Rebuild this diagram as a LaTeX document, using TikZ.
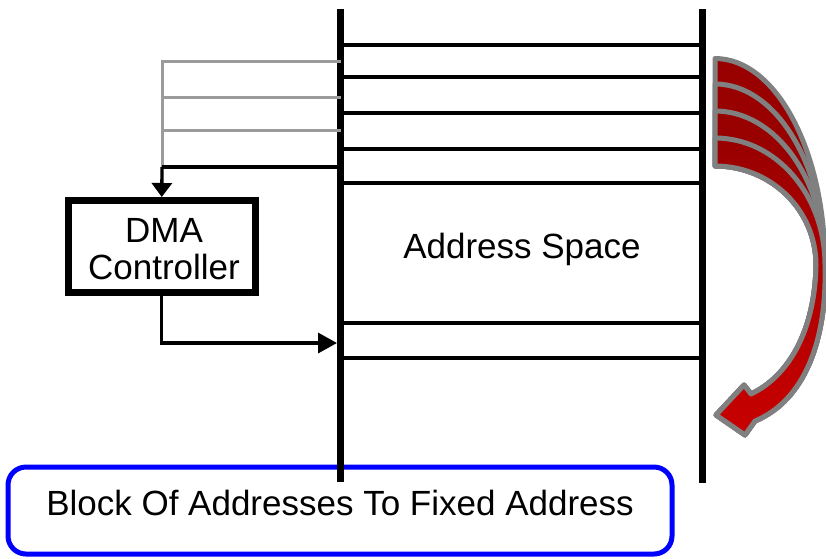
\documentclass[tikz,border=0pt]{standalone}
\usepackage{fontspec}
\setmainfont{Liberation Sans}
\usetikzlibrary{arrows.meta}
\definecolor{dred}{RGB}{153,0,0}
\definecolor{bred}{RGB}{200,0,0}
\definecolor{agray}{RGB}{128,128,128}
\definecolor{lgray}{RGB}{155,155,155}
\begin{document}
\begin{tikzpicture}[x=1pt,y=-1pt,
  bus/.style={line width=7pt},
  addr/.style={line width=3.5pt},
  glink/.style={draw=lgray,line width=3pt},
  link/.style={line width=3.3pt},
  band/.style={fill=dred,draw=agray,line width=5pt,line join=round},
  lbl/.style={font=\fontsize{35}{40}\selectfont,inner sep=0pt}]
\useasboundingbox (0,0) rectangle (826,558);

% blue box
\node[draw=blue, line width=5pt, rounded corners=18pt, minimum width=664pt,
      minimum height=87pt, inner sep=0pt] (blockbox) at (340,510.5) {};
\node[lbl, anchor=base] (blocktext) at (340,515) {Block Of Addresses To Fixed Address};

% address space buses
\coordinate (Ltop) at (340.5,9);
\coordinate (Lbot) at (340.5,482);
\coordinate (Rtop) at (702,9);
\coordinate (Rbot) at (702,483);
\draw[bus] (Ltop) -- (Lbot);
\draw[bus] (Rtop) -- (Rbot);
\foreach \y in {45,77,113,149,183,323,358}
  \draw[addr] (340.5,\y) -- (702,\y);
\node[lbl, anchor=base] (aspace) at (522,258.5) {Address Space};

% DMA controller
\node[draw, line width=7pt, minimum width=186.5pt, minimum height=92pt,
      inner sep=0pt] (dma) at (161.75,246.5) {};
\node[lbl, anchor=base] (dmat1) at (164,242) {DMA};
\node[lbl, anchor=base] (dmat2) at (164,279) {Controller};

% gray source lines
\coordinate (g1) at (340.5,61);
\coordinate (g2) at (340.5,97);
\coordinate (g3) at (340.5,130);
\coordinate (g4) at (340.5,167);
\coordinate (j) at (162,167);
\draw[glink] (g1) -| (j);
\draw[glink] (g2) -- (162,97);
\draw[glink] (g3) -- (162,130);
\draw[link] (g4) -- (j);
\draw[link,-{Triangle[length=14pt,width=20pt]}] (j) -- (dma.north);
\coordinate (dest) at (337,343);
\draw[link,-{Triangle[length=19pt,width=20pt]}] (dma.south) |- (dest);

% curved red arrow (four stacked bands)
\foreach \t in {58.5,84,111}
  \path[band] (715,\t) .. controls (776,\t) and (825,{265-0.5523*(265-\t)}) .. (825,265)
    .. controls (827,340) and (805,400) .. (755,421)
    -- (745,435) -- (716,415) -- (744,385) -- (751,394)
    .. controls (789,376) and (815,330) .. (816,265)
    .. controls (816,210) and (771,166) .. (715,166) -- cycle;
\path[band, top color=dred, bottom color=bred] (715,138) .. controls (776,138) and (825,{265-0.5523*127}) .. (825,265)
    .. controls (827,340) and (805,400) .. (755,421)
    -- (745,435) -- (716,415) -- (744,385) -- (751,394)
    .. controls (789,376) and (815,330) .. (816,265)
    .. controls (816,210) and (771,166) .. (715,166) -- cycle;
\end{tikzpicture}
\end{document}
